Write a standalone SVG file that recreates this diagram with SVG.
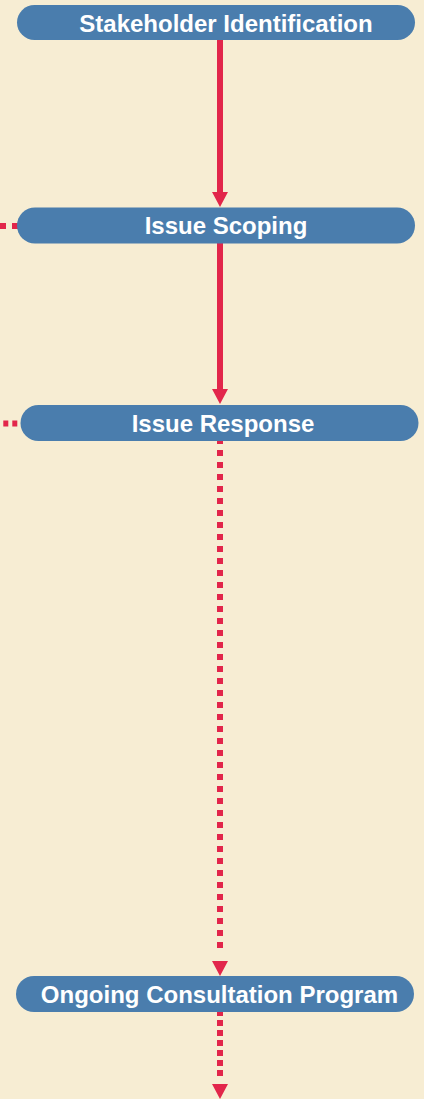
<svg xmlns="http://www.w3.org/2000/svg" xmlns:xlink="http://www.w3.org/1999/xlink" width="424" height="1099" viewBox="0 0 424 1099">
<style>
.node{fill:#4A7DAD;}
.lbl{font-family:"Liberation Sans",Arial,sans-serif;font-weight:bold;font-size:24px;fill:#FFFFFF;text-anchor:middle;}
.solid{stroke:#E2264A;stroke-width:6;fill:none;}
.dash{stroke:#E2264A;stroke-width:6;fill:none;stroke-dasharray:6 6;}
.dash2{stroke:#E2264A;stroke-width:6;fill:none;stroke-dasharray:6 4;}
.head{fill:#E2264A;}
</style>
<defs>
<path id="ah" class="head" d="M-8,0 L8,0 L0,15 Z"/>
</defs>
<rect width="424" height="1099" fill="#F7EDD3"/>
<g id="connectors">
<line class="solid" x1="220" y1="40" x2="220" y2="193"/>
<use xlink:href="#ah" href="#ah" x="220" y="192"/>
<line class="solid" x1="220" y1="243" x2="220" y2="390"/>
<use xlink:href="#ah" href="#ah" x="220" y="389"/>
<line class="dash" x1="220" y1="438" x2="220" y2="950"/>
<use xlink:href="#ah" href="#ah" x="220" y="961"/>
<line class="dash2" x1="220" y1="1010" x2="220" y2="1076"/>
<use xlink:href="#ah" href="#ah" x="220" y="1084"/>
<line class="dash" x1="0" y1="226" x2="18" y2="226"/>
<line class="dash2" style="stroke-dasharray:5 4" x1="3.3" y1="423.5" x2="22" y2="423.5"/>
</g>
<g id="n1">
<rect class="node" x="17" y="5" width="398" height="35" rx="17.5" ry="17.5"/>
<text class="lbl" x="226" y="31.5">Stakeholder Identification</text>
</g>
<g id="n2">
<rect class="node" x="17" y="207.5" width="398" height="36" rx="18" ry="18"/>
<text class="lbl" x="226" y="234">Issue Scoping</text>
</g>
<g id="n3">
<rect class="node" x="20.5" y="405" width="398" height="36" rx="18" ry="18"/>
<text class="lbl" x="223" y="431.5">Issue Response</text>
</g>
<g id="n4">
<rect class="node" x="16" y="976" width="398" height="36" rx="18" ry="18"/>
<text class="lbl" x="219.5" y="1002.5">Ongoing Consultation Program</text>
</g>
</svg>
